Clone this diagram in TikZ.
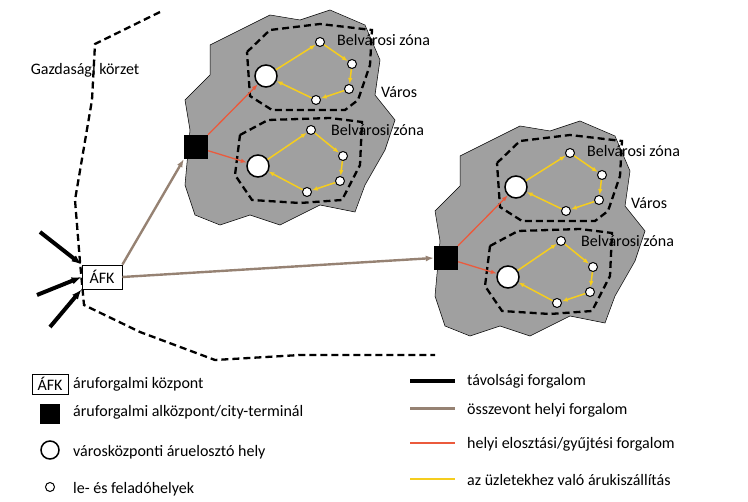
\documentclass[tikz,border=0pt]{standalone}
\usepackage{fontspec}
\setmainfont{Carlito}
\usetikzlibrary{arrows.meta,positioning}
\definecolor{cityGray}{RGB}{160,160,160}
\definecolor{localBrown}{RGB}{150,130,115}
\definecolor{distRed}{RGB}{235,90,60}
\definecolor{shopYellow}{RGB}{245,205,30}

\tikzset{
    zone/.style={line width=2.3pt, dash pattern=on 7pt off 4pt},
    hub/.style={circle, draw, fill=white, line width=1.5pt, minimum size=22pt, inner sep=0pt},
    stop/.style={circle, draw, fill=white, line width=1pt, minimum size=9pt, inner sep=0pt},
    terminal/.style={rectangle, fill=black, minimum size=24pt, inner sep=0pt},
    tour/.style={-{Latex[length=6pt]}, shopYellow, line width=1.5pt},
    feed/.style={-{Latex[length=6pt]}, distRed, line width=1.3pt},
    trunk/.style={-{Latex[length=8pt]}, localBrown, line width=2.4pt},
    longhaul/.style={-{Latex[length=10pt]}, line width=4pt},
    lbl/.style={font=\fontsize{16}{19}\selectfont, inner sep=1pt}
}

% one city with two downtown zones
\newcommand{\citymap}[2]{%
  \begin{scope}[shift={(#1,#2)}]
    \fill[cityGray, draw=black, line width=0.5pt] (240,30) -- (270,15) -- (300,20) -- (330,10) -- (365,25)
      -- (380,60) -- (375,95) -- (395,120) -- (385,150) -- (365,185) -- (355,212) -- (320,205)
      -- (280,225) -- (250,215) -- (220,225) -- (195,215) -- (185,185) -- (190,130) -- (185,100)
      -- (210,75) -- (210,45) -- cycle;
    \draw[zone] (247,52) -- (270,30) -- (320,24) -- (372,30) -- (370,65) -- (358,100)
      -- (345,110) -- (272,110) -- (250,96) -- cycle;
    \draw[zone] (240,135) -- (268,120) -- (330,118) -- (362,122) -- (360,165) -- (342,200)
      -- (300,203) -- (252,200) -- (235,175) -- cycle;
    \node[terminal] (t) at (196,147) {};
    \node[hub] (h1) at (266,76) {};
    \node[stop] (a1) at (320,42) {};
    \node[stop] (a2) at (352,64) {};
    \node[stop] (a3) at (349,89) {};
    \node[stop] (a4) at (316,100) {};
    \node[hub] (h2) at (258,166) {};
    \node[stop] (b1) at (311,130) {};
    \node[stop] (b2) at (343,156) {};
    \node[stop] (b3) at (340,181) {};
    \node[stop] (b4) at (307,192) {};
    \draw[feed] (t) -- (h1);
    \draw[feed] (t) -- (h2);
    \draw[tour] (h1) -- (a1);
    \draw[tour] (a1) -- (a2);
    \draw[tour] (a2) -- (a3);
    \draw[tour] (a3) -- (a4);
    \draw[tour] (a4) -- (h1);
    \draw[tour] (h2) -- (b1);
    \draw[tour] (b1) -- (b2);
    \draw[tour] (b2) -- (b3);
    \draw[tour] (b3) -- (b4);
    \draw[tour] (b4) -- (h2);
    \node[lbl, anchor=west] at (336,40) {Belvárosi zóna};
    \node[lbl, anchor=west] at (380,92) {Város};
    \node[lbl, anchor=west] at (330,130) {Belvárosi zóna};
  \end{scope}}

\begin{document}
\begin{tikzpicture}[x=1pt, y=-1pt]
    \useasboundingbox (0,0) rectangle (748,502);

    % economic region border
    \draw[zone] (160,12) -- (95,44) -- (92,100) -- (75,200) -- (80,262) -- (84,305)
      -- (140,332) -- (215,360) -- (300,355) -- (435,355);
    \node[lbl] (region) at (85,70) {Gazdasági körzet};

    % cities
    \citymap{0}{0}
    \node[terminal] (term1) at (196,147) {};
    \citymap{250}{111}
    \node[terminal] (term2) at (446,258) {};

    % freight centre
    \node[lbl, draw, fill=white, line width=0.8pt, minimum width=40pt, minimum height=24pt] (afk) at (102,277) {ÁFK};
    \coordinate (in1) at (40,232);
    \coordinate (in2) at (37,295);
    \coordinate (in3) at (50,327);
    \draw[longhaul] (in1) -- (afk.north west);
    \draw[longhaul] (in2) -- (afk.west);
    \draw[longhaul] (in3) -- (afk.south west);
    \draw[trunk] (afk.north east) -- (term1.south west);
    \draw[trunk] (afk.east) -- (term2.west);

    % legend
    \node[lbl, draw, line width=0.8pt, minimum width=36pt, minimum height=20pt] (legafk) at (50,384) {ÁFK};
    \node[lbl, anchor=west] at (72,384) {áruforgalmi központ};
    \node[terminal, minimum size=20pt] (legterm) at (50,414) {};
    \node[lbl, anchor=west] at (72,412) {áruforgalmi alközpont/city-terminál};
    \node[hub, minimum size=18pt] (leghub) at (50,450) {};
    \node[lbl, anchor=west] at (72,452) {városközponti áruelosztó hely};
    \node[stop] (legstop) at (50,487) {};
    \node[lbl, anchor=west] at (72,489) {le- és feladóhelyek};

    \coordinate (l1a) at (410,381); \coordinate (l1b) at (455,381);
    \coordinate (l2a) at (410,409); \coordinate (l2b) at (455,409);
    \coordinate (l3a) at (410,443); \coordinate (l3b) at (455,443);
    \coordinate (l4a) at (410,479); \coordinate (l4b) at (455,479);
    \draw[line width=4pt] (l1a) -- (l1b);
    \draw[localBrown, line width=3pt] (l2a) -- (l2b);
    \draw[distRed, line width=1.5pt] (l3a) -- (l3b);
    \draw[shopYellow, line width=1.5pt] (l4a) -- (l4b);
    \node[lbl, anchor=west] at (466,381) {távolsági forgalom};
    \node[lbl, anchor=west] at (466,410) {összevont helyi  forgalom};
    \node[lbl, anchor=west] at (466,444) {helyi elosztási/gyűjtési  forgalom};
    \node[lbl, anchor=west] at (466,480) {az üzletekhez való árukiszállítás};
\end{tikzpicture}
\end{document}
